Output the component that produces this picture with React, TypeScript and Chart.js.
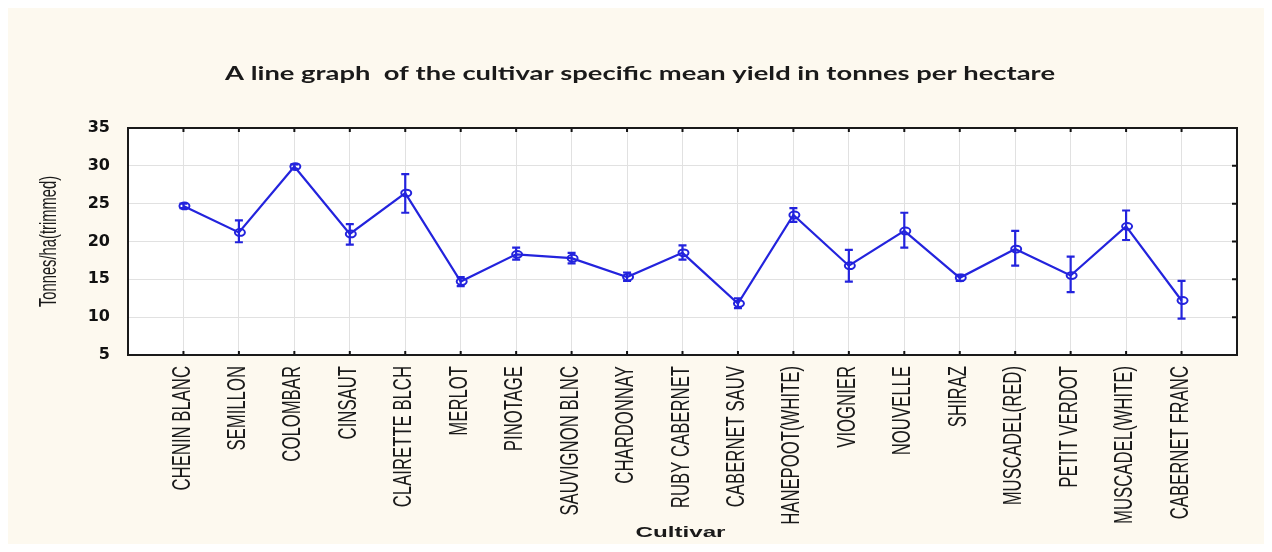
import { useEffect, useRef } from 'react';
import { Chart, registerables } from 'chart.js';

Chart.register(...registerables);

// Cultivars along the x axis, in plotting order (positions 1..19)
const cultivars = [
  'CHENIN BLANC',
  'SEMILLON',
  'COLOMBAR',
  'CINSAUT',
  'CLAIRETTE BLCH',
  'MERLOT',
  'PINOTAGE',
  'SAUVIGNON BLNC',
  'CHARDONNAY',
  'RUBY CABERNET',
  'CABERNET SAUV',
  'HANEPOOT(WHITE)',
  'VIOGNIER',
  'NOUVELLE',
  'SHIRAZ',
  'MUSCADEL(RED)',
  'PETIT VERDOT',
  'MUSCADEL(WHITE)',
  'CABERNET FRANC',
];

// Trimmed mean yield (tonnes/ha) per cultivar
const meanYield = [24.7, 21.2, 29.9, 21.0, 26.4, 14.7, 18.3, 17.8, 15.3, 18.5, 11.8, 23.5, 16.8, 21.4, 15.2, 19.0, 15.5, 22.0, 12.2];

// Lower and upper ends of the error bars
const errLow = [24.4, 19.9, 29.6, 19.6, 23.8, 14.1, 17.6, 17.1, 14.8, 17.6, 11.2, 22.6, 14.7, 19.2, 14.8, 16.8, 13.3, 20.2, 9.8];
const errHigh = [25.0, 22.8, 30.2, 22.3, 28.9, 15.3, 19.2, 18.5, 15.9, 19.5, 12.5, 24.4, 18.9, 23.8, 15.6, 21.4, 18.0, 24.1, 14.8];

// Value axis range and step
const yMin = 5;
const yMax = 35;
const yStep = 5;

const chartTitle = 'A line graph  of the cultivar specific mean yield in tonnes per hectare';
const yTitle = 'Tonnes/ha(trimmed)';
const xTitle = 'Cultivar';

const BLUE = '#2323dd';
const CREAM = '#fdf9ef';
const SANS = '"Liberation Sans", Arial, sans-serif';

function drawStretched(ctx: CanvasRenderingContext2D, text: string, cx: number, y: number, font: string, width: number) {
  ctx.save();
  ctx.font = font;
  const w = ctx.measureText(text).width;
  const sx = width / w;
  ctx.translate(cx, y);
  ctx.scale(sx, 1);
  ctx.textAlign = 'center';
  ctx.textBaseline = 'alphabetic';
  ctx.fillText(text, 0, 0);
  ctx.restore();
}

// Vertical text reading bottom-to-top, condensed along its length
function drawVertical(
  ctx: CanvasRenderingContext2D,
  text: string,
  x: number,
  y: number,
  align: CanvasTextAlign,
  font: string,
  along: number,
  across: number
) {
  ctx.save();
  ctx.translate(x, y);
  ctx.rotate(-Math.PI / 2);
  ctx.scale(along, across);
  ctx.font = font;
  ctx.textAlign = align;
  ctx.textBaseline = 'middle';
  ctx.fillText(text, 0, 0);
  ctx.restore();
}

const decorPlugin = {
  id: 'decor',
  beforeDraw(chart: any) {
    const { ctx, chartArea: a, width, height } = chart;
    ctx.save();
    ctx.fillStyle = CREAM;
    ctx.fillRect(0, 0, width, height);
    ctx.fillStyle = '#ffffff';
    ctx.fillRect(a.left, a.top, a.right - a.left, a.bottom - a.top);
    ctx.restore();
  },
  afterDatasetsDraw(chart: any) {
    const { ctx } = chart;
    const yScale = chart.scales.y;
    const meta = chart.getDatasetMeta(0);
    ctx.save();
    ctx.strokeStyle = BLUE;
    ctx.lineWidth = 2.2;
    // error bars with caps
    meta.data.forEach((pt: any, i: number) => {
      const x = pt.x;
      const yLo = yScale.getPixelForValue(errLow[i]);
      const yHi = yScale.getPixelForValue(errHigh[i]);
      ctx.beginPath();
      ctx.moveTo(x, yLo);
      ctx.lineTo(x, yHi);
      ctx.moveTo(x - 4, yLo);
      ctx.lineTo(x + 4, yLo);
      ctx.moveTo(x - 4, yHi);
      ctx.lineTo(x + 4, yHi);
      ctx.stroke();
    });
    // open elliptical markers
    ctx.lineWidth = 2;
    meta.data.forEach((pt: any) => {
      ctx.beginPath();
      ctx.ellipse(pt.x + 1, pt.y, 5, 3.4, 0, 0, Math.PI * 2);
      ctx.stroke();
    });
    ctx.restore();
  },
  afterDraw(chart: any) {
    const { ctx, chartArea: a, width } = chart;
    const xScale = chart.scales.x;
    const yScale = chart.scales.y;
    ctx.save();
    // inward tick marks on top, bottom and right edges
    ctx.strokeStyle = '#111';
    ctx.lineWidth = 2;
    ctx.beginPath();
    cultivars.forEach((_, i) => {
      const x = xScale.getPixelForValue(i + 1);
      ctx.moveTo(x, a.top);
      ctx.lineTo(x, a.top + 4);
      ctx.moveTo(x, a.bottom);
      ctx.lineTo(x, a.bottom - 4);
    });
    for (let v = yMin + yStep; v < yMax; v += yStep) {
      const y = yScale.getPixelForValue(v);
      ctx.moveTo(a.right, y);
      ctx.lineTo(a.right - 5, y);
    }
    ctx.stroke();
    // frame
    ctx.lineWidth = 2;
    ctx.strokeStyle = '#1a1a1a';
    ctx.strokeRect(a.left, a.top, a.right - a.left, a.bottom - a.top);

    ctx.fillStyle = '#1a1a1a';
    // cultivar labels under each category position
    cultivars.forEach((name, i) => {
      const x = xScale.getPixelForValue(i + 1);
      drawVertical(ctx, name, x - 1, a.bottom + 11, 'right', '19px ' + SANS, 0.88, 1.35);
    });
    // chart title
    drawStretched(ctx, chartTitle, width / 2 + 4, 72, 'bold 18px Lato, "Open Sans", sans-serif', 830);
    // x axis title
    drawStretched(ctx, xTitle, (a.left + a.right) / 2 - 2, 529, 'bold 15px ' + SANS, 90);
    // y axis title
    drawVertical(ctx, yTitle, 42, (a.top + a.bottom) / 2, 'center', '18px ' + SANS, 0.82, 1.3);
    ctx.restore();
  },
};

export default function App() {
  const ref = useRef<HTMLCanvasElement>(null);

  useEffect(() => {
    if (!ref.current) return;
    const chart = new Chart(ref.current, {
      type: 'line',
      data: {
        datasets: [
          {
            data: meanYield.map((v, i) => ({ x: i + 1, y: v })),
            borderColor: BLUE,
            borderWidth: 2.2,
            pointRadius: 0,
            fill: false,
            tension: 0,
          },
        ],
      },
      options: {
        animation: false,
        responsive: false,
        events: [],
        layout: { padding: { top: 120, right: 27, left: 0, bottom: 0 } },
        plugins: {
          legend: { display: false },
          tooltip: { enabled: false },
          title: { display: false },
        },
        scales: {
          x: {
            type: 'linear',
            min: 0,
            max: cultivars.length + 1,
            afterFit: (s: any) => {
              s.height = 189;
            },
            ticks: {
              stepSize: 1,
              autoSkip: false,
              display: false,
            },
            grid: { color: '#e1e1e1', lineWidth: 1, drawTicks: false },
            border: { display: false },
          },
          y: {
            min: yMin,
            max: yMax,
            afterFit: (s: any) => {
              s.width = 120;
            },
            ticks: {
              stepSize: yStep,
              padding: 18,
              color: '#111',
              font: { family: '"DejaVu Sans", sans-serif', size: 16, weight: 'bold' },
            },
            grid: { color: '#e1e1e1', lineWidth: 1, drawTicks: false },
            border: { display: false },
          },
        },
      },
      plugins: [decorPlugin],
    });
    return () => chart.destroy();
  }, []);

  return (
    <canvas
      ref={ref}
      width={1256}
      height={536}
      style={{ display: 'block', width: 1256, height: 536 }}
    />
  );
}
